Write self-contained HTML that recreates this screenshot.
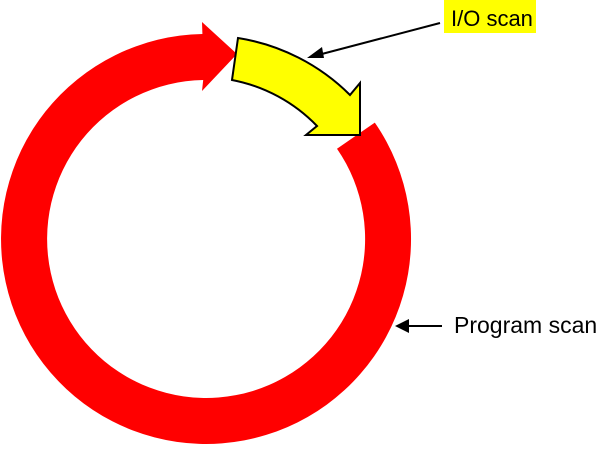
<!DOCTYPE html>
<html><head><meta charset="utf-8"><style>
html,body{margin:0;padding:0;background:#fff;}
svg{display:block;}
</style></head><body>
<svg width="602" height="453" viewBox="0 0 602 453" xmlns="http://www.w3.org/2000/svg">
<rect width="602" height="453" fill="#fff"/>
<path d="M 337,148.7 L 374.8,122.6 A 205 205 0 1 1 202.4,34 L 202,22 L 237,54 L 202,91 L 203.2,80 A 159 159 0 1 0 337,148.7 Z" fill="#ff0000"/>
<path d="M 238,38 A 204 204 0 0 1 350,95 L 360,83 L 360,135 L 306,135 L 317,126 A 160 160 0 0 0 232,80 Z" fill="#ffff00" stroke="#000" stroke-width="2" stroke-linejoin="miter"/>
<rect x="444" y="0" width="92" height="33" fill="#ffff00"/>
<text x="451" y="26" font-family="Liberation Sans, Arial, sans-serif" font-size="22" fill="#000">I/O scan</text>
<line x1="440" y1="23" x2="318" y2="55" stroke="#000" stroke-width="2"/>
<polygon points="307,58 322,47 324,58" fill="#000"/>
<text x="454" y="333" font-family="Liberation Sans, Arial, sans-serif" font-size="23" fill="#000">Program scan</text>
<line x1="442" y1="326" x2="405" y2="326" stroke="#000" stroke-width="2"/>
<polygon points="395,326 409,319 409,333" fill="#000"/>
</svg>
</body></html>
